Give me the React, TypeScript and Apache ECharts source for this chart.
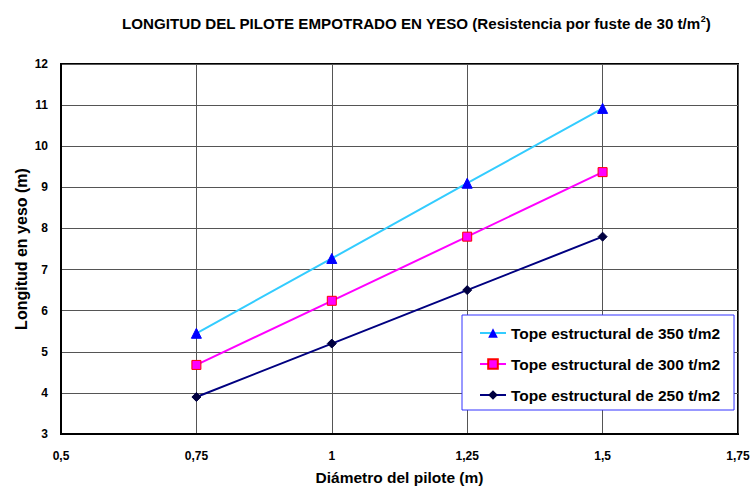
import React, { useEffect, useRef } from "react";
import * as echarts from "echarts";

const diameters = [0.75, 1, 1.25, 1.5];
const tope350 = [5.45, 7.27, 9.1, 10.92];
const tope300 = [4.68, 6.24, 7.8, 9.37];
const tope250 = [3.9, 5.2, 6.5, 7.8];
const seriesNames = [
  "Tope estructural de 350 t/m2",
  "Tope estructural de 300 t/m2",
  "Tope estructural de 250 t/m2",
];

const FONT = "'Liberation Sans', Arial, sans-serif";

export default function App() {
  const ref = useRef<HTMLDivElement>(null);
  useEffect(() => {
    document.body.style.margin = "0";
    if (!ref.current) return;
    const chart = echarts.init(ref.current, null, { renderer: "svg" });
    const pair = (ys: number[]) => diameters.map((x, i) => [x, ys[i]]);
    chart.setOption({
      animation: false,
      backgroundColor: "#ffffff",
      textStyle: { fontFamily: FONT },
      title: {
        left: 117,
        top: 8,
        text: "{t|LONGITUD DEL PILOTE EMPOTRADO EN YESO (Resistencia por fuste de 30 t/m}{sup|2}{t|)}",
        textStyle: {
          rich: {
            t: { fontFamily: FONT, fontWeight: "bold", fontSize: 15.15, color: "#000", lineHeight: 20 },
            sup: { fontFamily: FONT, fontWeight: "bold", fontSize: 9, color: "#000", lineHeight: 20, padding: [0, 0, 8, 0] },
          },
        },
      },
      grid: {
        left: 61,
        right: 14,
        top: 64,
        bottom: 54,
        containLabel: false,
        outerBoundsMode: "none",
        show: true,
        borderColor: "#000",
        borderWidth: 2,
        backgroundColor: "transparent",
      },
      xAxis: {
        type: "value",
        min: 0.5,
        max: 1.75,
        interval: 0.25,
        name: "Diámetro del pilote (m)",
        nameLocation: "middle",
        nameGap: 35,
        nameMoveOverlap: false,
        nameTextStyle: { fontFamily: FONT, fontWeight: "bold", fontSize: 15.5, color: "#000" },
        axisLine: { show: true, onZero: false, lineStyle: { color: "#000", width: 2 } },
        axisTick: { show: false },
        axisLabel: {
          margin: 16,
          fontFamily: FONT,
          fontWeight: "bold",
          fontSize: 12,
          color: "#000",
          formatter: (v: number) => String(v).replace(".", ","),
        },
        splitLine: { show: true, lineStyle: { color: "#555", width: 1 } },
      },
      yAxis: {
        type: "value",
        min: 3,
        max: 12,
        interval: 1,
        name: "Longitud en yeso (m)",
        nameLocation: "middle",
        nameGap: 32,
        nameMoveOverlap: false,
        nameRotate: 90,
        nameTextStyle: { fontFamily: FONT, fontWeight: "bold", fontSize: 16, color: "#000" },
        axisLine: { show: true, onZero: false, lineStyle: { color: "#000", width: 2 } },
        axisTick: { show: false },
        axisLabel: { margin: 13, fontFamily: FONT, fontWeight: "bold", fontSize: 12, color: "#000" },
        splitLine: { show: true, lineStyle: { color: "#555", width: 1 } },
      },
      legend: {
        orient: "vertical",
        left: 462,
        top: 315,
        padding: [10, 14, 7, 17],
        itemGap: 15,
        itemWidth: 26,
        itemHeight: 12,
        backgroundColor: "#fff",
        borderColor: "#3333ff",
        borderWidth: 1,
        borderRadius: 0,
        textStyle: { fontFamily: FONT, fontWeight: "bold", fontSize: 15.5, color: "#000" },
        data: seriesNames,
      },
      series: [
        {
          name: seriesNames[0],
          type: "line",
          data: pair(tope350),
          symbol: "triangle",
          symbolSize: 10,
          lineStyle: { color: "#33ccff", width: 2 },
          itemStyle: { color: "#0000ff", borderColor: "#0000ff" },
          z: 3,
        },
        {
          name: seriesNames[1],
          type: "line",
          data: pair(tope300),
          symbol: "rect",
          symbolSize: 9,
          lineStyle: { color: "#ff00ff", width: 2 },
          itemStyle: { color: "#ff00ff", borderColor: "#ff0000", borderWidth: 1 },
          z: 3,
        },
        {
          name: seriesNames[2],
          type: "line",
          data: pair(tope250),
          symbol: "diamond",
          symbolSize: 9,
          lineStyle: { color: "#000080", width: 2 },
          itemStyle: { color: "#000040", borderColor: "#000040" },
          z: 3,
        },
      ],
    });
    return () => chart.dispose();
  }, []);
  return <div ref={ref} style={{ width: 752, height: 488 }} />;
}
